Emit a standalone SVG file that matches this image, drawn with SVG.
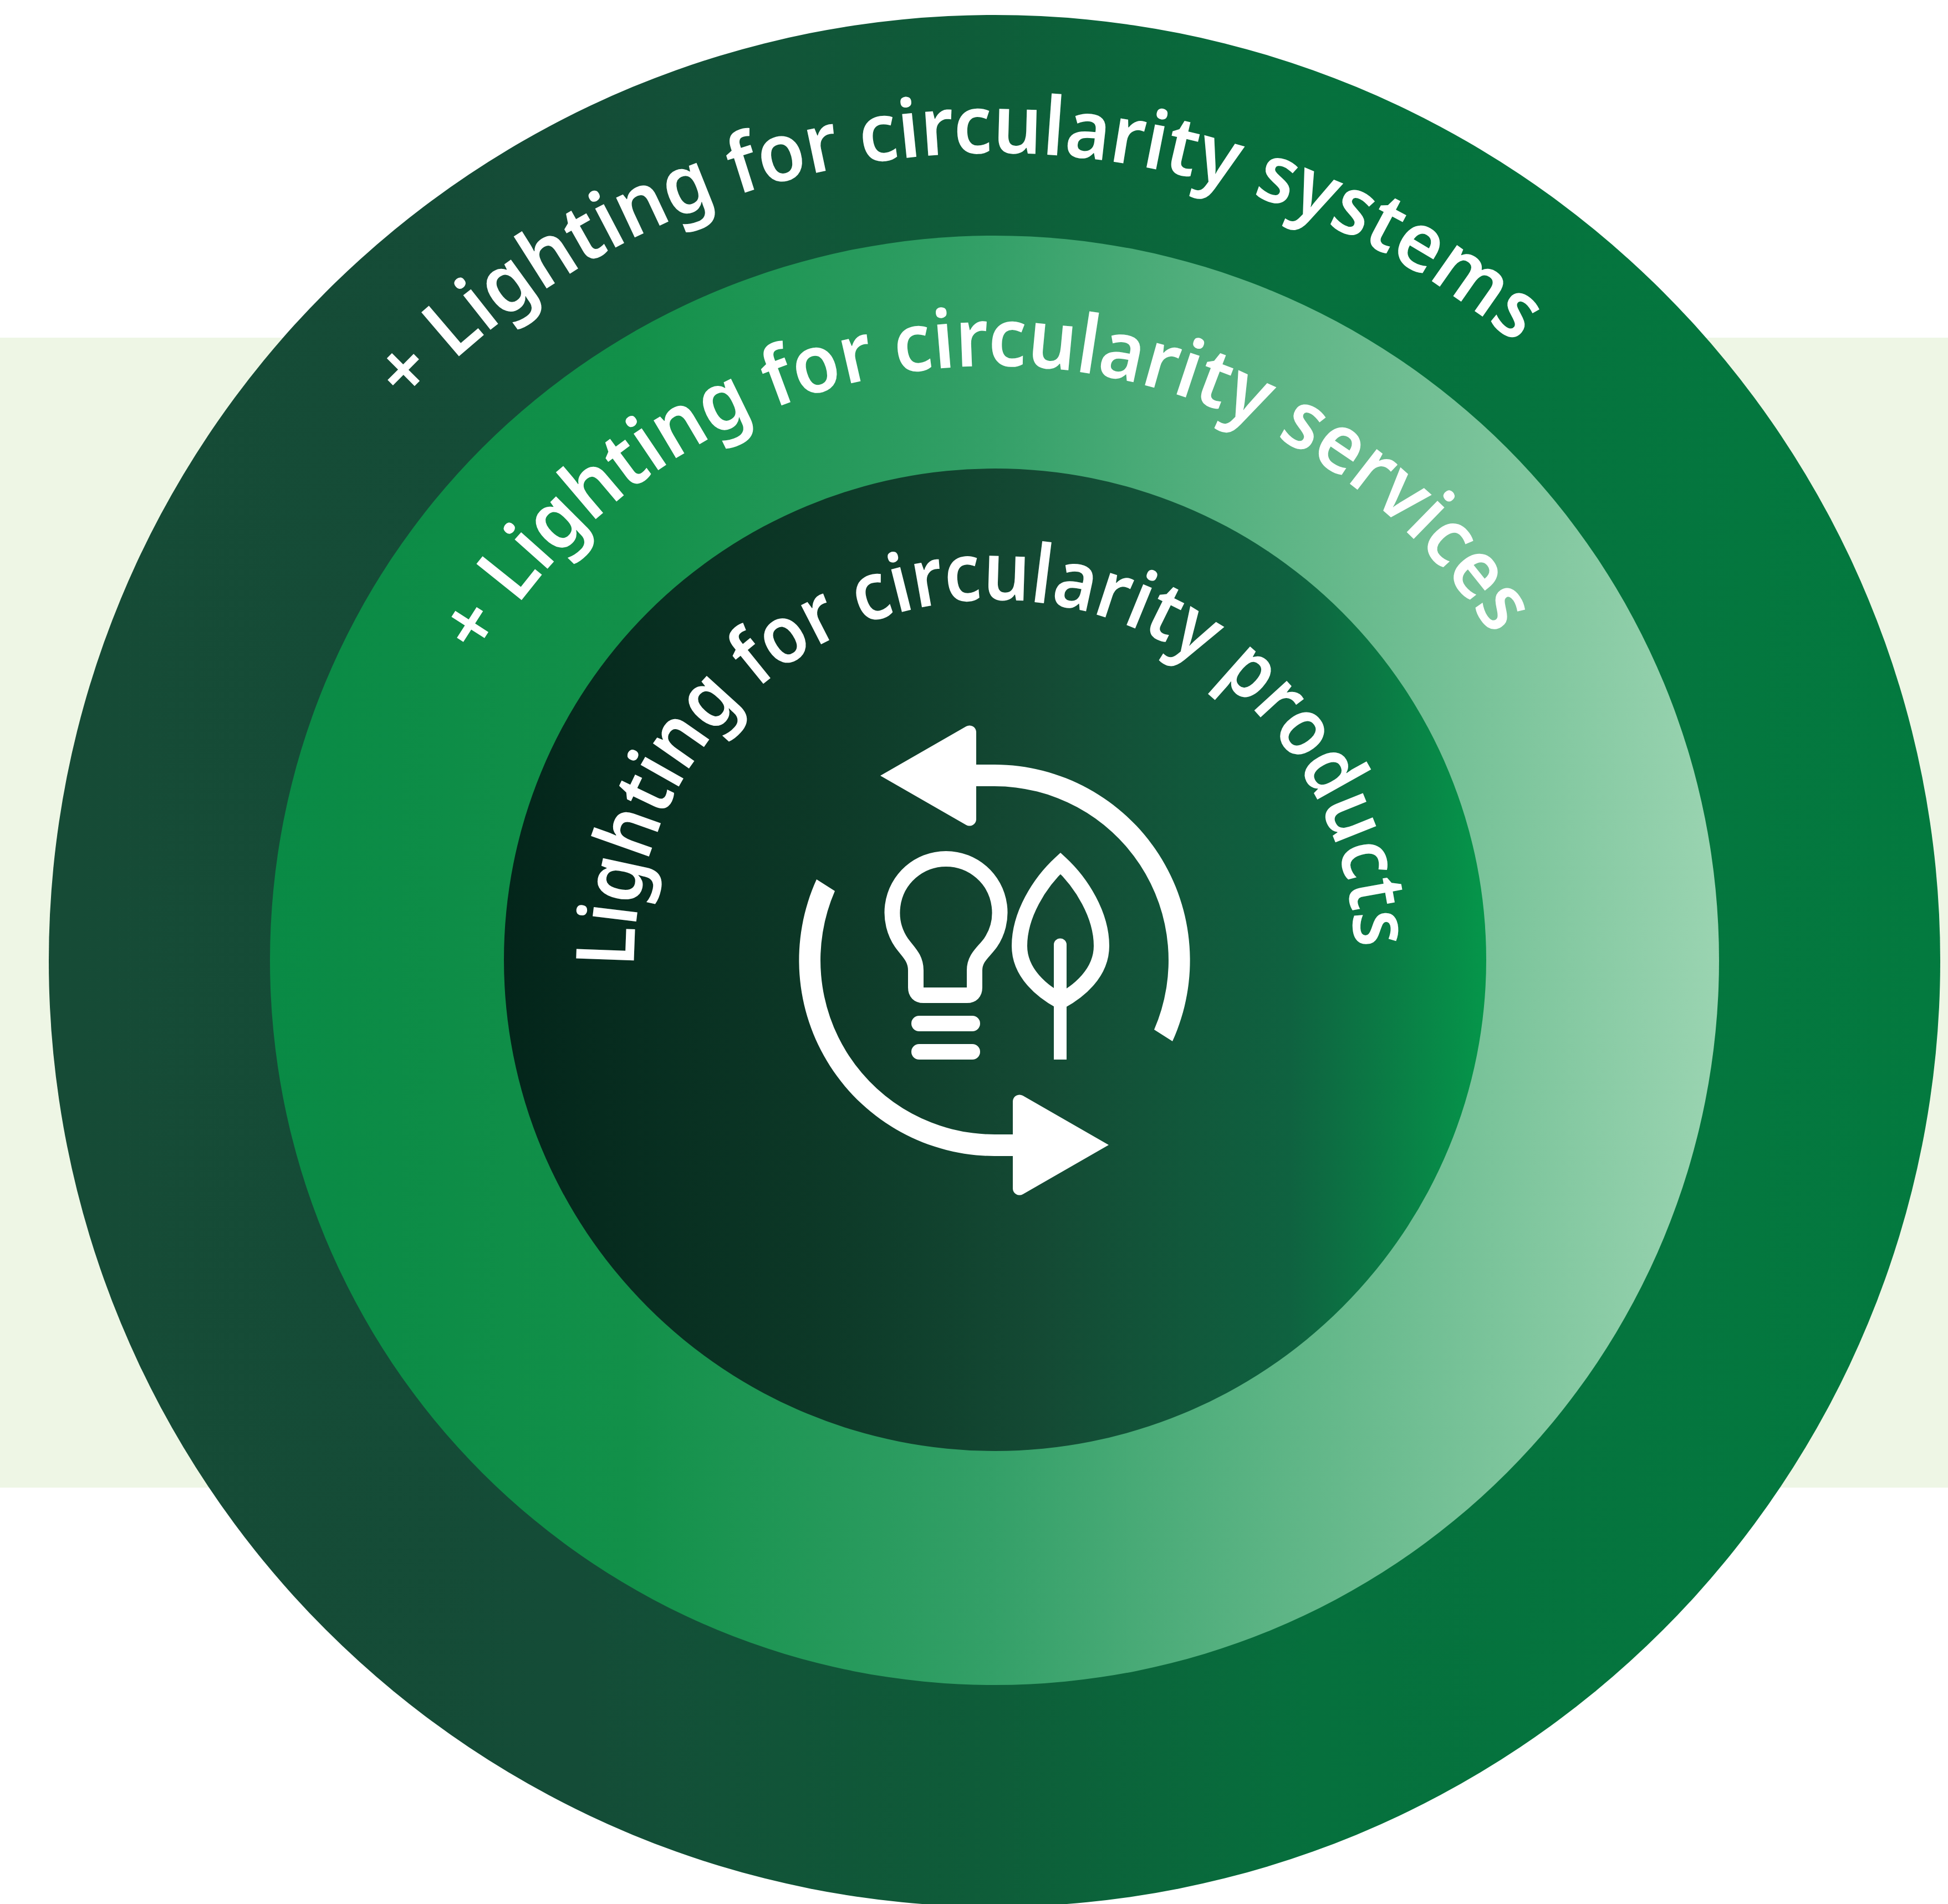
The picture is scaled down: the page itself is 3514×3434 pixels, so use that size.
<svg xmlns="http://www.w3.org/2000/svg" width="3514" height="3434" viewBox="0 0 3514 3434">
<style>
.t{font-family:"Noto Sans","Open Sans",sans-serif;font-weight:650;font-size:146px;fill:#fff}
.s{fill:none;stroke:#fff;stroke-width:28}
</style>
<defs>
<linearGradient id="g1" gradientUnits="userSpaceOnUse" x1="88" y1="0" x2="3500" y2="0"><stop offset="0" stop-color="#164b36"/><stop offset=".28" stop-color="#144c37"/><stop offset=".5" stop-color="#0e5d39"/><stop offset=".67" stop-color="#06703d"/><stop offset="1" stop-color="#037a3f"/></linearGradient>
<linearGradient id="g2" gradientUnits="userSpaceOnUse" x1="486" y1="0" x2="3101" y2="0"><stop offset="0" stop-color="#098a45"/><stop offset=".25" stop-color="#129049"/><stop offset=".5" stop-color="#34a068"/><stop offset=".75" stop-color="#68ba8d"/><stop offset="1" stop-color="#9ad4b1"/></linearGradient>
<linearGradient id="g3" gradientUnits="userSpaceOnUse" x1="908" y1="0" x2="2682" y2="0"><stop offset="0" stop-color="#03251a"/><stop offset=".3" stop-color="#0c3726"/><stop offset=".55" stop-color="#144a34"/><stop offset=".8" stop-color="#0f6240"/><stop offset="1" stop-color="#05964a"/></linearGradient>
<path id="p1" d="M1794 3188A1456 1456 0 1 1 1794 276A1456 1456 0 1 1 1794 3188"/>
<path id="p2" d="M1794 2804A1072 1072 0 1 1 1794 660A1072 1072 0 1 1 1794 2804"/>
<path id="p3" d="M1144 1732A650 650 0 1 1 2444 1732A650 650 0 1 1 1144 1732"/>
<g id="arrow"><path d="M1588 1399L1743 1310A12 12 0 0 1 1761 1320V1478A12 12 0 0 1 1743 1488Z" fill="#fff"/><path d="M1755 1379H1794A353 353 0 0 1 2115 1878L2082 1857A314 314 0 0 0 1794 1418H1755Z" fill="#fff"/></g>
</defs>
<rect id="band" x="0" y="609" width="3514" height="2074" fill="#eef6e5"/>
<g id="outer"><circle cx="1794" cy="1733" r="1706" fill="url(#g1)"/>
<text class="t"><textPath href="#p1" startOffset="3390" textLength="2207" lengthAdjust="spacingAndGlyphs">+ Lighting for circularity systems</textPath></text></g>
<g id="middle"><circle cx="1794" cy="1732" r="1307" fill="url(#g2)"/>
<text class="t"><textPath href="#p2" startOffset="2255" textLength="2179" lengthAdjust="spacingAndGlyphs">+ Lighting for circularity services</textPath></text></g>
<g id="inner"><circle cx="1795" cy="1731" r="886" fill="url(#g3)"/>
<text class="t"><textPath href="#p3" startOffset="-12" textLength="2032" lengthAdjust="spacingAndGlyphs">Lighting for circularity products</textPath></text></g>
<g id="cycle"><use href="#arrow"/><use href="#arrow" transform="rotate(180 1794 1732)"/></g>
<g id="bulb"><path class="s" d="M1652 1750C1652 1727 1638 1717 1626 1700A97 97 0 1 1 1787 1700C1775 1717 1758 1727 1758 1750V1781Q1758 1795 1744 1795H1666Q1652 1795 1652 1781Z"/><path class="s" stroke-linecap="round" d="M1658 1846H1754M1658 1897H1754"/></g>
<g id="leaf"><path class="s" stroke-miterlimit="10" d="M1913 1557C1875 1592 1839 1650 1839 1706C1839 1755 1880 1788 1913 1806C1946 1788 1987 1755 1987 1706C1987 1650 1951 1592 1913 1557Z"/><path d="M1901 1911V1704A11.500 11.500 0 0 1 1924 1704V1911Z" fill="#fff"/></g>
</svg>
